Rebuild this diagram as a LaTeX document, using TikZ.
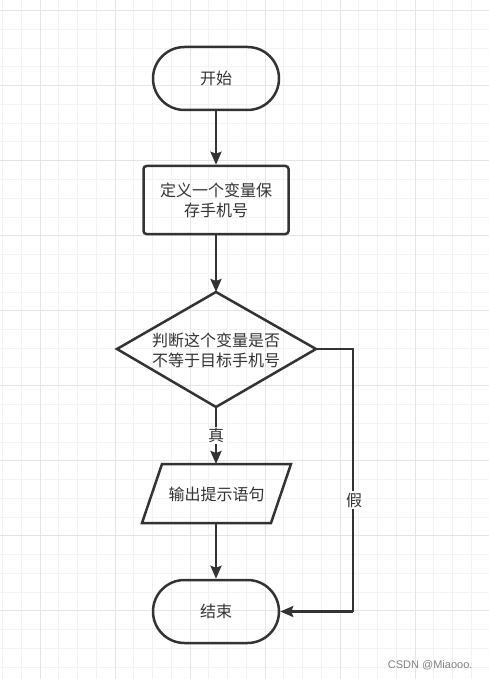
\documentclass[tikz,border=0pt]{standalone}
\usepackage{fontspec}
\newfontfamily\cjk{Noto Sans CJK SC}
\setmainfont{Liberation Sans}
\usetikzlibrary{arrows.meta,shapes.geometric,shapes.misc}
\definecolor{ink}{HTML}{333333}
\definecolor{gridminor}{HTML}{F2F2F2}
\definecolor{gridmajor}{HTML}{E4E4E4}
\tikzset{
  lbl/.style={font=\cjk\fontsize{16}{20}\selectfont, text=ink, align=center},
  term/.style={draw=ink, line width=2.5pt, rounded rectangle, minimum width=126pt, minimum height=63pt, inner sep=0pt, lbl},
  procbox/.style={draw=ink, line width=2.5pt, rounded corners=3pt, minimum width=145pt, minimum height=68pt, inner sep=0pt, lbl},
  flow/.style={draw=ink, line width=2.5pt, -{Stealth[length=13pt,width=11pt,inset=2pt]}},
  plain/.style={draw=ink, line width=2.5pt},
  edgelbl/.style={fill=white, inner sep=1.5pt, font=\cjk\fontsize{16}{18}\selectfont, text=ink},
}
\begin{document}
\begin{tikzpicture}[x=1pt,y=-1pt]
\useasboundingbox (0,0) rectangle (489,679);
\fill[white] (0,0) rectangle (489,679);
% grid
\foreach \i in {0,...,26} {\draw[gridminor, line width=1pt] ({2.5+18.75*\i},0) -- ({2.5+18.75*\i},679);}
\foreach \i in {0,...,36} {\draw[gridminor, line width=1pt] (0,{10.75+18.75*\i}) -- (489,{10.75+18.75*\i});}
\foreach \i in {0,...,6} {\draw[gridmajor, line width=1pt] ({40+75*\i},0) -- ({40+75*\i},679);}
\foreach \i in {0,...,8} {\draw[gridmajor, line width=1pt] (0,{10.75+75*\i}) -- (489,{10.75+75*\i});}

% nodes
\node[term] (start) at (216,78.5) {开始};
\node[procbox] (def) at (216,200) {定义一个变量保\\存手机号};
\coordinate (dT) at (216,292);
\coordinate (dR) at (316,349);
\coordinate (dB) at (216,407);
\coordinate (dL) at (117,349);
\draw[plain, line join=miter] (dT) -- (dR) -- (dB) -- (dL) -- cycle;
\node[lbl] (dec) at (216,350) {判断这个变量是否\\不等于目标手机号};
\coordinate (pTL) at (162,464);
\coordinate (pTR) at (291,464);
\coordinate (pBR) at (271,523);
\coordinate (pBL) at (142,523);
\draw[plain, line join=miter] (pTL) -- (pTR) -- (pBR) -- (pBL) -- cycle;
\node[lbl] (out) at (216.5,494) {输出提示语句};
\node[term] (stop) at (216,611.5) {结束};

% connectors
\draw[flow] (start.south) -- (def.north);
\draw[flow] (def.south) -- (dT);
\coordinate (outTop) at (216,464);
\coordinate (outBot) at (216,523);
\draw[flow] (dB) -- node[edgelbl, pos=0.5] (yes) {真} (outTop);
\draw[flow] (outBot) -- (stop.north);
\coordinate (c1) at (353,349);
\coordinate (c2) at (353,611.5);
\draw[plain] (dR) -- (c1) -- (c2);
\draw[flow] (c2) -- (stop.east);
\node[edgelbl] (no) at (354,500) {假};

% watermark
\node[font=\fontsize{11}{13}\selectfont, text=black!50, anchor=east] (wm) at (476,665) {CSDN @Miaooo.};
\end{tikzpicture}
\end{document}
